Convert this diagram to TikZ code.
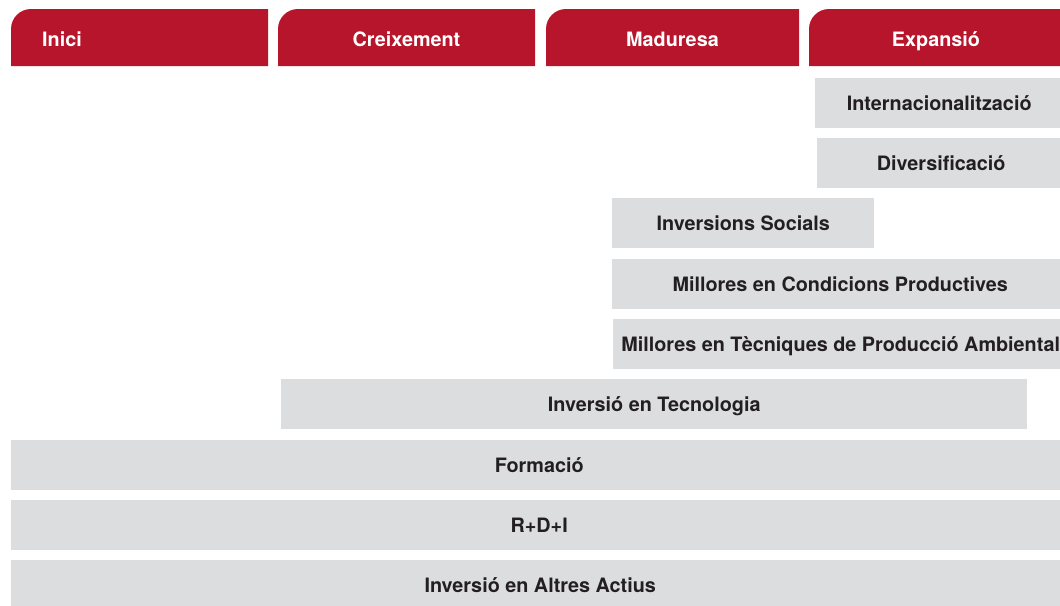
\documentclass[tikz,border=0pt]{standalone}
\usepackage{fontspec}
\setmainfont{TeX Gyre Heros}
\usepackage{xcolor}
\usepackage{tikz}
\definecolor{tabred}{RGB}{183,21,43}
\definecolor{bargray}{RGB}{220,221,223}
\definecolor{bartext}{RGB}{35,31,32}
\newcommand{\labelfont}{\bfseries\fontsize{19.8}{24}\selectfont}

\begin{document}
\begin{tikzpicture}[x=1pt, y=-1pt,
	bar/.style={fill=bargray, anchor=north west, minimum height=50, inner sep=0, text height=14.2, text depth=0, font=\labelfont, text=bartext, align=center},
	phase/.style={inner sep=0, text height=14.2, text depth=0, font=\labelfont, text=white}
]
\useasboundingbox (0,0) rectangle (1060,605);
\clip (0,0) rectangle (1060,605);

\foreach \l/\r in {11/268, 278/535, 546/799, 809/1063}
	\fill[tabred] (\l,66) -- (\l,29) arc[start angle=180, end angle=270, radius=20] -- (\r,9) -- (\r,66) -- cycle;

\node[phase, anchor=west] (inici) at (42,39) {Inici};
\node[phase] (creixement) at (406.5,39) {Creixement};
\node[phase] (maduresa) at (672.5,39) {Maduresa};
\node[phase] (expansio) at (936,39) {Expansió};

\node[bar, minimum width=248] (intl) at (815,78) {Internacionalització};
\node[bar, minimum width=248] (divers) at (817,138) {Diversificació};
\node[bar, minimum width=262] (socials) at (612,198) {Inversions Socials};
\node[bar, minimum width=456] (condicions) at (612,259) {Millores en Condicions Productives};
\node[bar, minimum width=455] (ambiental) at (613,319) {Millores en Tècniques de Producció Ambiental};
\node[bar, minimum width=746] (tecnologia) at (281,379) {Inversió en Tecnologia};
\node[bar, minimum width=1056] (formacio) at (11,440) {Formació};
\node[bar, minimum width=1056] (rdi) at (11,500) {R+D+I};
\node[bar, minimum width=1058] (actius) at (11,560) {Inversió en Altres Actius};
\end{tikzpicture}
\end{document}
